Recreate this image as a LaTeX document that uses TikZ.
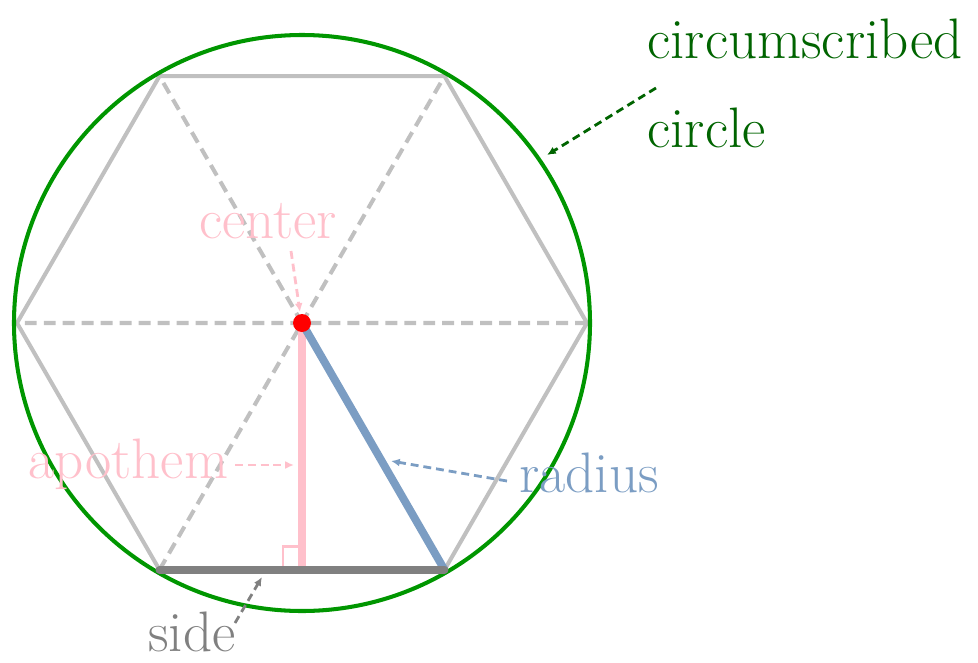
\documentclass[tikz,border=0pt]{standalone}
\usepackage{tikz}
\usetikzlibrary{arrows.meta,calc}
\definecolor{hexgray}{RGB}{192,192,192}
\definecolor{circgreen}{RGB}{0,150,0}
\definecolor{labgreen}{RGB}{0,100,0}
\definecolor{apopink}{RGB}{255,192,203}
\definecolor{radblue}{RGB}{123,157,195}
\definecolor{sidegray}{RGB}{128,128,128}
\tikzset{
  lab/.style={font=\fontsize{32.5}{38}\selectfont, anchor=base west, inner sep=0pt},
  pointer/.style={line width=1.6pt, dash pattern=on 4.5pt off 2.8pt,
    -{Latex[length=5pt,width=4.5pt]}},
  thickseg/.style={line width=4.5pt}
}
\begin{document}
\begin{tikzpicture}[x=0.02cm,y=-0.02cm]
\useasboundingbox (0,0) rectangle (978,663);

\coordinate (O) at (302,323);
\foreach \i in {0,...,5}
  \coordinate (v\i) at ($(O)+(\i*60:285)$);

% hexagon and its diagonals
\draw[hexgray, line width=2.3pt, line join=round]
  (v0)--(v1)--(v2)--(v3)--(v4)--(v5)--cycle;
\draw[hexgray, line width=2.3pt, dash pattern=on 6.8pt off 4pt]
  (v0)--(v3) (v1)--(v4) (v2)--(v5);

% circumscribed circle
\draw[circgreen, line width=2.3pt] (O) circle [radius=288];

% apothem, radius, side
\coordinate (F) at ($(v1)!0.5!(v2)$);
\draw[apopink, thickseg] (O)--(F);
\draw[apopink, line width=1.7pt] ($(F)+(-19,0)$) |- ($(F)+(-4,-23)$);
\draw[radblue, thickseg] (O)--(v1);
\draw[sidegray, thickseg, line cap=round] (v2)--(v1);
\fill[red] (O) circle [radius=9];

% labels
\node[lab, text=labgreen] (circ1) at (647,58) {circumscribed};
\node[lab, text=labgreen] (circ2) at (647,147) {circle};
\node[lab, text=apopink] (cent) at (199,238) {center};
\node[lab, text=apopink] (apo) at (28,478) {apothem};
\node[lab, text=radblue] (rad) at (519,492) {radius};
\node[lab, text=sidegray] (sidelab) at (148,651) {side};

% pointers
\coordinate (circtail) at (656,88);
\coordinate (circhead) at (547,155);
\coordinate (centtail) at (291,251);
\coordinate (centhead) at (300,312);
\coordinate (apotail) at (235,465);
\coordinate (apohead) at (294,465);
\coordinate (radtail) at (507,481);
\coordinate (radhead) at (391,461);
\coordinate (sidetail) at (235,623);
\coordinate (sidehead) at (262,577);
\draw[pointer, labgreen] (circtail)--(circhead);
\draw[pointer, apopink] (centtail)--(centhead);
\draw[pointer, apopink] (apotail)--(apohead);
\draw[pointer, radblue] (radtail)--(radhead);
\draw[pointer, sidegray] (sidetail)--(sidehead);
\end{tikzpicture}
\end{document}
